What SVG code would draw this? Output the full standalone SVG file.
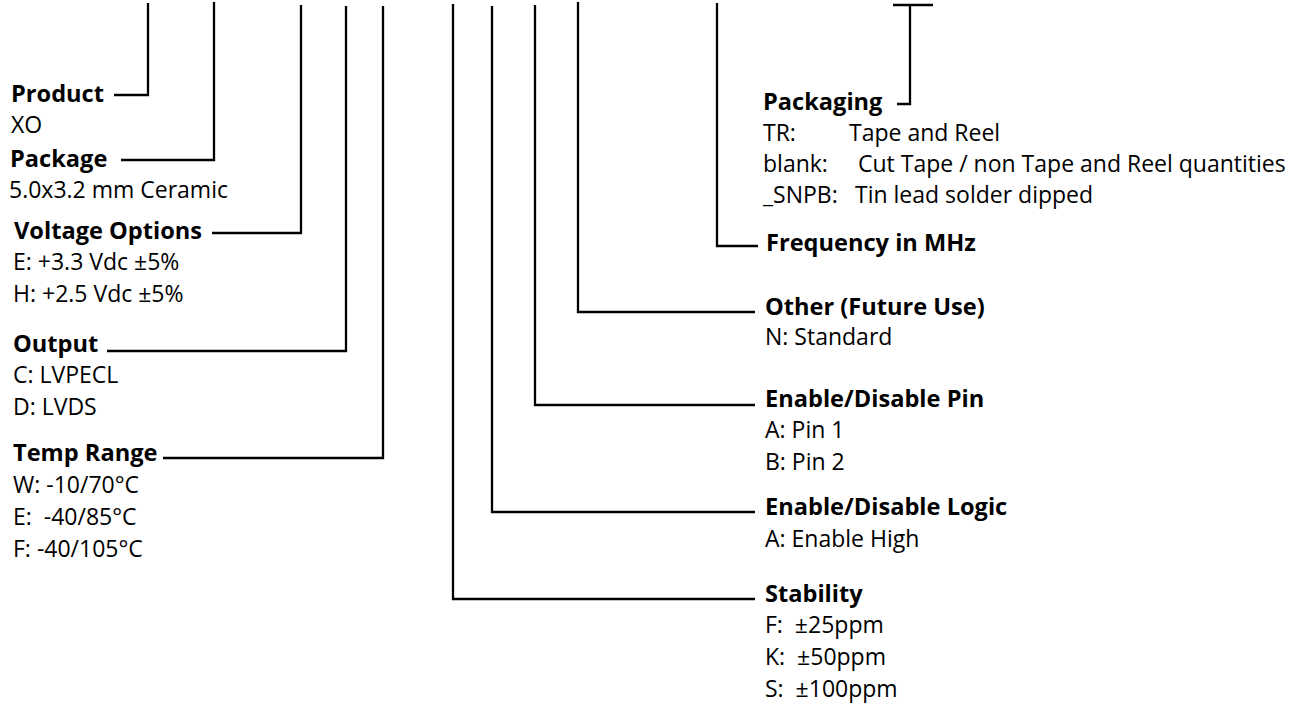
<svg xmlns="http://www.w3.org/2000/svg" width="1302" height="705" viewBox="0 0 1302 705">
<style>
text{font-family:"Open Sans","Noto Sans",sans-serif;font-size:23px;fill:#000;white-space:pre}
.h{font-weight:bold;font-size:23.6px}
.c{fill:none;stroke:#000;stroke-width:2.3;stroke-linecap:butt;stroke-linejoin:miter}
</style>
<rect width="1302" height="705" fill="#fff"/>
<g id="connectors">
<path class="c" d="M148,3V95H114"/>
<path class="c" d="M214,2V160H121"/>
<path class="c" d="M301,5V233H212"/>
<path class="c" d="M346,6V351H107"/>
<path class="c" d="M383,6V458H163"/>
<path class="c" d="M453,4V599H755"/>
<path class="c" d="M492,6V512H755"/>
<path class="c" d="M535,5V405H755"/>
<path class="c" d="M578,2V312H755"/>
<path class="c" d="M717,3V246H758"/>
<path class="c" d="M893,5H933M910,5V104H897"/>
</g>
<g id="product"><text class="h" x="11" y="102">Product</text><text x="11" y="133">XO</text></g>
<g id="package"><text class="h" x="10" y="167">Package</text><text x="9" y="198">5.0x3.2 mm Ceramic</text></g>
<g id="voltage"><text class="h" x="14" y="239">Voltage Options</text><text x="13" y="270">E: +3.3 Vdc ±5%</text><text x="13" y="302">H: +2.5 Vdc ±5%</text></g>
<g id="output"><text class="h" x="13" y="352">Output</text><text x="13" y="383">C: LVPECL</text><text x="13" y="415">D: LVDS</text></g>
<g id="temp"><text class="h" x="13" y="461">Temp Range</text><text x="13" y="493">W: -10/70°C</text><text x="13" y="525">E:  -40/85°C</text><text x="13" y="557">F: -40/105°C</text></g>
<g id="packaging"><text class="h" x="763" y="110">Packaging</text>
<text x="763" y="141">TR:<tspan x="849">Tape and Reel</tspan></text>
<text x="763" y="172">blank:<tspan x="858">Cut Tape / non Tape and Reel quantities</tspan></text>
<text x="763" y="203">_SNPB:<tspan x="855">Tin lead solder dipped</tspan></text></g>
<g id="frequency"><text class="h" x="766" y="251">Frequency in MHz</text></g>
<g id="other"><text class="h" x="765" y="315">Other (Future Use)</text><text x="765" y="345">N: Standard</text></g>
<g id="enable-pin"><text class="h" x="765" y="407">Enable/Disable Pin</text><text x="765" y="438">A: Pin 1</text><text x="765" y="470">B: Pin 2</text></g>
<g id="enable-logic"><text class="h" x="765" y="515">Enable/Disable Logic</text><text x="765" y="547">A: Enable High</text></g>
<g id="stability"><text class="h" x="765" y="602">Stability</text><text x="765" y="633">F:  ±25ppm</text><text x="765" y="665">K:  ±50ppm</text><text x="765" y="697">S:  ±100ppm</text></g>
</svg>
